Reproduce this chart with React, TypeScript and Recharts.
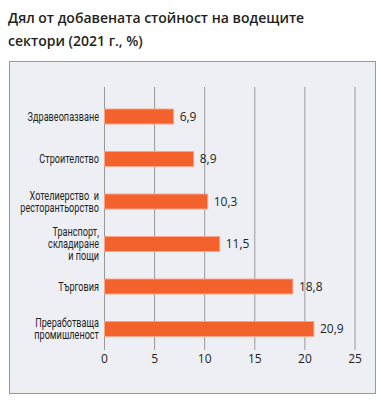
import React from "react";
import { BarChart, Bar, XAxis, YAxis, CartesianGrid, LabelList } from "recharts";

const categories = [
  "Здравеопазване",
  "Строителство",
  "Хотелиерство  и\nресторантьорство",
  "Транспорт,\nскладиране\nи пощи",
  "Търговия",
  "Преработваща\nпромишленост",
];
const values = [6.9, 8.9, 10.3, 11.5, 18.8, 20.9];
const xTicks = [0, 5, 10, 15, 20, 25];
const titleLines = ["Дял от добавената стойност на водещите", "сектори (2021 г., %)"];

const data = categories.map((name, i) => ({ name, value: values[i] }));

const TEXT = "#231f20";
const LABEL_FONT = "Roboto, sans-serif";
const NUM_FONT = "'Open Sans', sans-serif";

const YTick = (props: any) => {
  const { x, y, payload } = props;
  const lines: string[] = String(payload.value).split("\n");
  const lh = 12;
  const start = y - ((lines.length - 1) * lh) / 2;
  return (
    <g transform={`translate(${x - 5.5},0) scale(0.73,1)`}>
      <text textAnchor="end" fontFamily={LABEL_FONT} fontSize={12.5} fill={TEXT} style={{ whiteSpace: "pre" }}>
        {lines.map((l, i) => (
          <tspan key={i} x={0} y={start + i * lh} dy="0.35em">
            {l}
          </tspan>
        ))}
      </text>
    </g>
  );
};

const XTick = (props: any) => {
  const { x, y, payload } = props;
  return (
    <text x={x} y={y + 13} textAnchor="middle" fontFamily={NUM_FONT} fontSize={12} fill={TEXT}>
      {payload.value}
    </text>
  );
};

export default function App() {
  return (
    <div>
      <div
        style={{
          position: "absolute",
          left: 8,
          top: 6,
          fontFamily: NUM_FONT,
          fontWeight: 600,
          fontSize: 14,
          lineHeight: "23px",
          color: TEXT,
          whiteSpace: "nowrap",
        }}
      >
        {titleLines.map((t, i) => (
          <div key={i}>{t}</div>
        ))}
      </div>
      <div
        style={{
          position: "absolute",
          left: 9,
          top: 61,
          width: 367,
          height: 333,
          boxSizing: "border-box",
          border: "1px solid #999999",
          background: "#eeeff5",
        }}
      >
        <BarChart
          width={365}
          height={331}
          data={data}
          layout="vertical"
          margin={{ top: 25, right: 20, bottom: 13, left: 0 }}
        >
          <CartesianGrid vertical horizontal={false} stroke="#999999" strokeWidth={1} />
          <XAxis
            type="number"
            domain={[0, 25]}
            ticks={xTicks}
            axisLine={false}
            tickLine={false}
            tickSize={0}
            tickMargin={0}
            height={30}
            tick={<XTick />}
            interval={0}
          />
          <YAxis
            type="category"
            dataKey="name"
            width={94.5}
            axisLine={false}
            tickLine={false}
            tickSize={0}
            tickMargin={0}
            padding={{ top: 8, bottom: 0 }}
            tick={<YTick />}
            interval={0}
          />
          <Bar dataKey="value" fill="#f3622d" stroke="#f8a589" strokeWidth={1} barSize={15} isAnimationActive={false}>
            <LabelList
              dataKey="value"
              position="right"
              offset={6}
              formatter={(v: any) => String(v).replace(".", ",")}
              style={{ fontFamily: NUM_FONT, fontSize: 12, fill: TEXT }}
            />
          </Bar>
        </BarChart>
      </div>
    </div>
  );
}
